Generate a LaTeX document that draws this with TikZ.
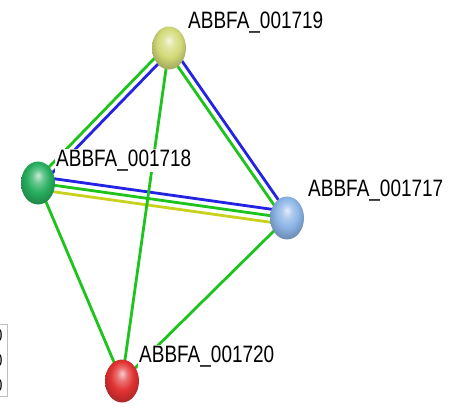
\documentclass[tikz,border=0pt]{standalone}
\usepackage{fontspec}
\newfontfamily\protfont[FakeStretch=0.8]{Liberation Sans}
\usepackage{tikz}
\usetikzlibrary{calc, shapes.geometric, backgrounds}

\definecolor{edgegreen}{RGB}{30,195,30}
\definecolor{edgeblue}{RGB}{35,35,225}
\definecolor{edgeyellow}{RGB}{200,210,30}
\definecolor{ballyellow}{RGB}{210,218,120}
\definecolor{ballgreen}{RGB}{40,175,95}
\definecolor{ballblue}{RGB}{140,180,230}
\definecolor{ballred}{RGB}{225,50,50}
\colorlet{ballcol}{ballred}

%% glossy sphere, highlight near the top
\pgfdeclareradialshading[ballcol]{glossy}{\pgfpoint{0bp}{9bp}}{%
    color(0bp)=(ballcol!25!white); color(8bp)=(ballcol!70!white);
    color(17bp)=(ballcol); color(27bp)=(ballcol!80!black);
    color(50bp)=(ballcol!60!black)}

\begin{document}
\begin{tikzpicture}[
    x=0.02cm, y=-0.02cm,
    protein/.style={
        ellipse, /utils/exec={\colorlet{ballcol}{#1}}, shading=glossy,
        minimum width=0.68cm, minimum height=0.86cm, inner sep=0pt
    },
    plabel/.style={
        anchor=base west, inner sep=0.5pt, fill=white,
        font=\protfont\fontsize{13.5}{16}\selectfont
    },
    link/.style={line width=1.6pt},
]

\useasboundingbox (0,0) rectangle (450,407);

%% Proteins
\node[protein=ballyellow] (p19) at (169,48) {};
\node[protein=ballgreen]  (p18) at (38,183) {};
\node[protein=ballblue]   (p17) at (287,218) {};
\node[protein=ballred]    (p20) at (122,381) {};

%% Labels
\node[plabel] (l19) at (187,28)  {ABBFA\_001719};
\node[plabel] (l18) at (55,166)  {ABBFA\_001718};
\node[plabel] (l17) at (307,196) {ABBFA\_001717};
\node[plabel] (l20) at (138,362) {ABBFA\_001720};

%% Clipped legend on the left
\node[draw=black!25, anchor=north east, align=right, inner sep=3pt,
      font=\protfont\fontsize{10}{14}\selectfont] (legend) at (8,324)
    {0\\0\\0};

%% Edges
\begin{scope}[on background layer]
\draw[link, edgegreen]  ($(p18)!0.065cm!90:(p19)$)  -- ($(p19)!0.065cm!-90:(p18)$);
\draw[link, edgeblue]   ($(p18)!0.065cm!-90:(p19)$) -- ($(p19)!0.065cm!90:(p18)$);

\draw[link, edgeblue]   ($(p19)!0.065cm!90:(p17)$)  -- ($(p17)!0.065cm!-90:(p19)$);
\draw[link, edgegreen]  ($(p19)!0.065cm!-90:(p17)$) -- ($(p17)!0.065cm!90:(p19)$);

\draw[link, edgeblue]   ($(p18)!0.13cm!90:(p17)$)  -- ($(p17)!0.13cm!-90:(p18)$);
\draw[link, edgegreen]  (p18.center) -- (p17.center);
\draw[link, edgeyellow] ($(p18)!0.13cm!-90:(p17)$) -- ($(p17)!0.13cm!90:(p18)$);

\draw[link, edgegreen]  (p19.center) -- (p20.center);
\draw[link, edgegreen]  (p18.center) -- (p20.center);
\draw[link, edgegreen]  (p17.center) -- (p20.center);
\end{scope}

\end{tikzpicture}
\end{document}
